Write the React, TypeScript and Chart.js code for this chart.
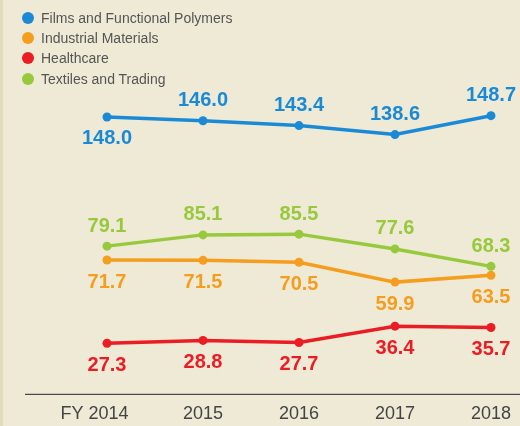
import React, { useEffect, useRef } from 'react';
import { Chart, registerables } from 'chart.js';

Chart.register(...registerables);

const years = ['FY 2014', '2015', '2016', '2017', '2018'];
const films = [148.0, 146.0, 143.4, 138.6, 148.7];
const industrial = [71.7, 71.5, 70.5, 59.9, 63.5];
const healthcare = [27.3, 28.8, 27.7, 36.4, 35.7];
const textiles = [79.1, 85.1, 85.5, 77.6, 68.3];

const seriesNames = [
  'Films and Functional Polymers',
  'Industrial Materials',
  'Healthcare',
  'Textiles and Trading',
];
const colors = ['#1B8AD6', '#F59D1E', '#EC1C24', '#98C93C'];

const filmsSides = ['below', 'above', 'above', 'above', 'above'];
const industrialSides = ['below', 'below', 'below', 'below', 'below'];
const healthcareSides = ['below', 'below', 'below', 'below', 'below'];
const textilesSides = ['above', 'above', 'above', 'above', 'above'];

const valueLabelPlugin = {
  id: 'valueLabels',
  afterDatasetsDraw(chart: any) {
    const ctx = chart.ctx;
    ctx.save();
    ctx.font = 'bold 20px "Liberation Sans", Arial, sans-serif';
    ctx.textAlign = 'center';
    ctx.textBaseline = 'middle';
    chart.data.datasets.forEach((ds: any, i: number) => {
      const meta = chart.getDatasetMeta(i);
      ctx.fillStyle = ds.borderColor;
      meta.data.forEach((pt: any, j: number) => {
        const side = ds.labelSides[j];
        const dy = side === 'above' ? -20 : 22;
        ctx.fillText(ds.data[j].toFixed(1), pt.x, pt.y + dy);
      });
    });
    ctx.restore();
  },
};

const baselinePlugin = {
  id: 'baseline',
  beforeDatasetsDraw(chart: any) {
    const ctx = chart.ctx;
    const y = chart.scales.y.getPixelForValue(0);
    ctx.save();
    ctx.strokeStyle = '#4a4a4a';
    ctx.lineWidth = 1.2;
    ctx.beginPath();
    ctx.moveTo(25, y);
    ctx.lineTo(chart.width, y);
    ctx.stroke();
    ctx.restore();
  },
};

export default function App() {
  const canvasRef = useRef<HTMLCanvasElement | null>(null);

  useEffect(() => {
    const mk = (label: string, data: number[], color: string, sides: string[]) => ({
      label,
      data,
      borderColor: color,
      backgroundColor: color,
      pointBackgroundColor: color,
      pointBorderColor: color,
      borderWidth: 3.5,
      pointRadius: 4.5,
      pointBorderWidth: 0,
      tension: 0,
      clip: false,
      labelSides: sides,
    });
    const chart = new Chart(canvasRef.current as HTMLCanvasElement, {
      type: 'line',
      data: {
        labels: years,
        datasets: [
          mk(seriesNames[0], films, colors[0], filmsSides),
          mk(seriesNames[1], industrial, colors[1], industrialSides),
          mk(seriesNames[2], healthcare, colors[2], healthcareSides),
          mk(seriesNames[3], textiles, colors[3], textilesSides),
        ] as any,
      },
      options: {
        animation: false,
        responsive: false,
        maintainAspectRatio: false,
        layout: { padding: { left: 107, right: 28, top: 0, bottom: 0 } },
        plugins: { legend: { display: false }, tooltip: { enabled: false } },
        scales: {
          x: {
            offset: false,
            grid: { display: false, drawTicks: false },
            border: { display: false },
            ticks: {
              padding: 9,
              color: '#444',
              font: { family: '"Liberation Sans", Arial, sans-serif', size: 18 },
              maxRotation: 0,
              autoSkip: false,
              callback: (_v: any, i: number) => (i === 0 ? years[i] + '\u00A0\u00A0\u00A0\u00A0\u00A0' : years[i]),
            },
          },
          y: { display: false, min: 0, max: 208 },
        },
      },
      plugins: [valueLabelPlugin, baselinePlugin],
    });
    return () => chart.destroy();
  }, []);

  return (
    <div
      style={{
        position: 'absolute',
        left: 0,
        top: 0,
        width: 520,
        height: 426,
        background: '#EEEAD6',
        boxShadow: 'inset 3px 0 0 #E0DBB8',
        overflow: 'hidden',
      }}
    >
      <canvas ref={canvasRef} width={520} height={434} style={{ position: 'absolute', left: 0, top: 0 }} />
      {seriesNames.map((name, i) => (
        <div
          key={name}
          style={{
            position: 'absolute',
            left: 22,
            top: 8 + i * 20.2,
            height: 20,
            display: 'flex',
            alignItems: 'center',
            fontFamily: '"Liberation Sans", Arial, sans-serif',
            fontSize: 14,
            color: '#555',
            whiteSpace: 'nowrap',
          }}
        >
          <span
            style={{
              display: 'inline-block',
              width: 12,
              height: 12,
              borderRadius: '50%',
              background: colors[i],
              marginRight: 7,
            }}
          />
          {name}
        </div>
      ))}
    </div>
  );
}
